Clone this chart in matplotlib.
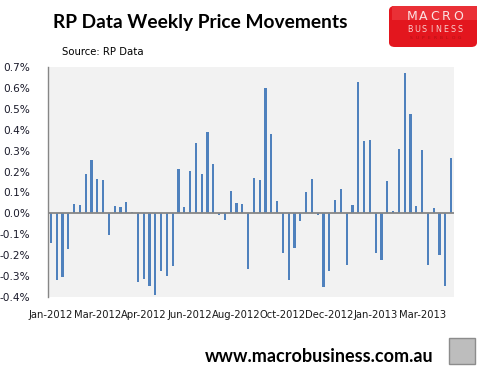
import matplotlib
matplotlib.use("Agg")
import matplotlib.pyplot as plt
from matplotlib.patches import Rectangle, FancyBboxPatch

# weekly % change
changes = [-0.14, -0.32, -0.305, -0.17, 0.043, 0.04, 0.19, 0.255, 0.165, 0.16,
           -0.105, 0.035, 0.03, 0.055, 0.006, -0.33, -0.315, -0.345, -0.39, -0.275,
           -0.30, -0.25, 0.21, 0.03, 0.205, 0.335, 0.19, 0.39, 0.235, -0.01,
           -0.03, 0.105, 0.05, 0.045, -0.265, 0.17, 0.16, 0.60, 0.38, 0.06,
           -0.19, -0.32, -0.165, -0.035, 0.10, 0.165, -0.01, -0.35, -0.275, 0.065,
           0.115, -0.245, 0.04, 0.63, 0.345, 0.35, -0.19, -0.225, 0.155, 0.01,
           0.31, 0.67, 0.475, 0.035, 0.305, -0.245, 0.025, -0.20, -0.345, 0.265]
month_labels = ["Jan-2012", "Mar-2012", "Apr-2012", "Jun-2012", "Aug-2012",
                "Oct-2012", "Dec-2012", "Jan-2013", "Mar-2013"]
label_every = 8
y_ticks = [-0.4, -0.3, -0.2, -0.1, 0.0, 0.1, 0.2, 0.3, 0.4, 0.5, 0.6, 0.7]

W, H = 488, 376
fig = plt.figure(figsize=(W / 100, H / 100), dpi=100)
ax = fig.add_axes([48/W, 1 - 297/H, 406/W, 230/H])
ax.set_facecolor("#F2F2F2")

x = list(range(len(changes)))
ax.bar(x, changes, width=0.36, color="#4F81BD", zorder=2)
ax.axhline(0, color="#868686", lw=1.3, zorder=3)

ax.set_xlim(-0.5, len(changes) - 0.5)
ax.set_ylim(-0.4, 0.7)
ax.set_yticks(y_ticks)
ax.set_yticklabels([f"{v:.1f}%" for v in y_ticks], fontsize=7.6, color="#1a1a2a")
ax.set_xticks(x[::label_every][:len(month_labels)])
ax.set_xticklabels(month_labels, fontsize=7.2, color="#1a1a1a")
ax.tick_params(length=0)
ax.tick_params(axis="y", pad=13)
ax.tick_params(axis="x", pad=9)
for s in ["top", "right", "bottom"]:
    ax.spines[s].set_visible(False)
ax.spines["left"].set_color("#868686")
ax.spines["left"].set_linewidth(1.0)

# titles
fig.text(53/W, 1 - 28/H, "RP Data Weekly Price Movements", fontsize=13.8,
         family="Lato", fontweight="bold", ha="left", va="baseline")
fig.text(62/W, 1 - 52/H, "Source: RP Data", fontsize=7.3, ha="left", va="center")


def spaced(word, x0, x1, y, **kw):
    # spread letters evenly between x0 and x1 (pixels)
    step = (x1 - x0) / (len(word) - 1)
    for i, ch in enumerate(word):
        fig.text((x0 + i * step) / W, 1 - y / H, ch, ha="center", va="center", **kw)


# logo box
fig.patches.append(FancyBboxPatch((389/W, 1 - 47/H), 88/W, 41/H,
                                  boxstyle="round,pad=0,rounding_size=0.012",
                                  transform=fig.transFigure, facecolor="#E3161E",
                                  edgecolor="none"))
fig.patches.append(Rectangle((392/W, 1 - 20/H), 85/W, 14/H,
                             transform=fig.transFigure, facecolor="#EA3036",
                             edgecolor="none"))
spaced("MACRO", 412, 458, 17, fontsize=9, color="#FBE3E3")
spaced("BUSINESS", 410, 460, 29, fontsize=5.8, color="#F8D0D0")
spaced("SUPERBLOG", 411, 459, 38, fontsize=3.2, color="#B01015")

# footer
fig.text(319/W, 1 - 357/H, "www.macrobusiness.com.au", fontsize=13,
         family="Lato", fontweight="bold", ha="center", va="center")
fig.patches.append(Rectangle((449/W, 1 - 364/H), 26/W, 26/H,
                             transform=fig.transFigure, facecolor="#BDBDBD",
                             edgecolor="#8C8C8C", lw=1))

fig.savefig("out.png", dpi=100)
